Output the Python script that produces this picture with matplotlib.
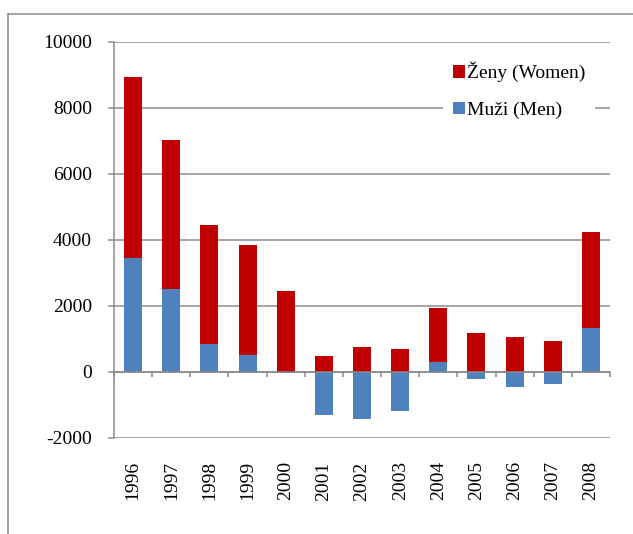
import numpy as np
import matplotlib
matplotlib.use('Agg')
import matplotlib.pyplot as plt
from matplotlib.lines import Line2D

years = ['1996', '1997', '1998', '1999', '2000', '2001', '2002',
         '2003', '2004', '2005', '2006', '2007', '2008']
men = [3440, 2510, 830, 515, -40, -1300, -1430, -1200, 300, -210, -450, -360, 1320]
women = [5480, 4500, 3615, 3315, 2440, 470, 750, 690, 1630, 1170, 1050, 930, 2910]

RED = '#C00000'
BLUE = '#4F81BD'
GRAY = '#8C8C8C'

plt.rcParams['font.family'] = ['Liberation Serif', 'DejaVu Serif']
plt.rcParams['font.size'] = 14
plt.rcParams['axes.unicode_minus'] = False

W, H = 633, 534
fig = plt.figure(figsize=(W / 100, H / 100), dpi=100)
ax = fig.add_axes([114 / W, 1 - 437.7 / H, 496 / W, 396 / H])

x = np.arange(len(years))
men = np.array(men)
women = np.array(women)
# women stack on top of the positive part of men only
base = np.where(men > 0, men, 0)
ax.bar(x, men, width=0.47, color=BLUE, zorder=3, label='Muži (Men)')
ax.bar(x, women, width=0.47, bottom=base, color=RED, zorder=3,
       label='Ženy (Women)')

ax.set_xlim(-0.5, len(years) - 0.5)
ax.set_ylim(-2000, 10000)
ax.set_yticks(range(-2000, 10001, 2000))
ax.yaxis.grid(True, color=GRAY, linewidth=1.1, zorder=0)
ax.set_axisbelow(True)

for s in ('top', 'right'):
    ax.spines[s].set_visible(False)
ax.spines['left'].set_color(GRAY)
ax.spines['left'].set_linewidth(1.1)
ax.spines['bottom'].set_position(('data', 0))
ax.spines['bottom'].set_color(GRAY)
ax.spines['bottom'].set_linewidth(1.1)
ax.spines['bottom'].set_zorder(4)

ax.tick_params(axis='y', length=4.5, width=1.1, color=GRAY, pad=11.5)
ax.set_xticks(np.arange(-0.5, len(years), 1.0))
ax.set_xticklabels([])
ax.tick_params(axis='x', length=3.8, width=1.1, color=GRAY)

# year labels sit under the lowest gridline
sec = ax.secondary_xaxis('bottom')
sec.set_xticks(x)
sec.set_xticklabels(years, rotation=90)
sec.tick_params(length=0, pad=17)
sec.spines['bottom'].set_visible(False)

handles, labels = ax.get_legend_handles_labels()
leg = ax.legend(handles[::-1], labels[::-1], loc='upper left',
                bbox_to_anchor=(443 / W, 1 - 52 / H),
                bbox_transform=fig.transFigure, borderaxespad=0,
                frameon=True, fancybox=False, framealpha=1,
                handlelength=0.62, handleheight=0.62, handletextpad=0.12,
                labelspacing=1.0, borderpad=0.5)
leg.get_frame().set_edgecolor('none')
leg.get_frame().set_facecolor('white')

# outer chart border, running off the right and bottom edges
fig.add_artist(Line2D([8 / W, 8 / W], [0, 1 - 14 / H], color=GRAY,
                      linewidth=1.1, transform=fig.transFigure))
fig.add_artist(Line2D([8 / W, 1], [1 - 14 / H, 1 - 14 / H], color=GRAY,
                      linewidth=1.1, transform=fig.transFigure))

fig.savefig('out.png', dpi=100)
